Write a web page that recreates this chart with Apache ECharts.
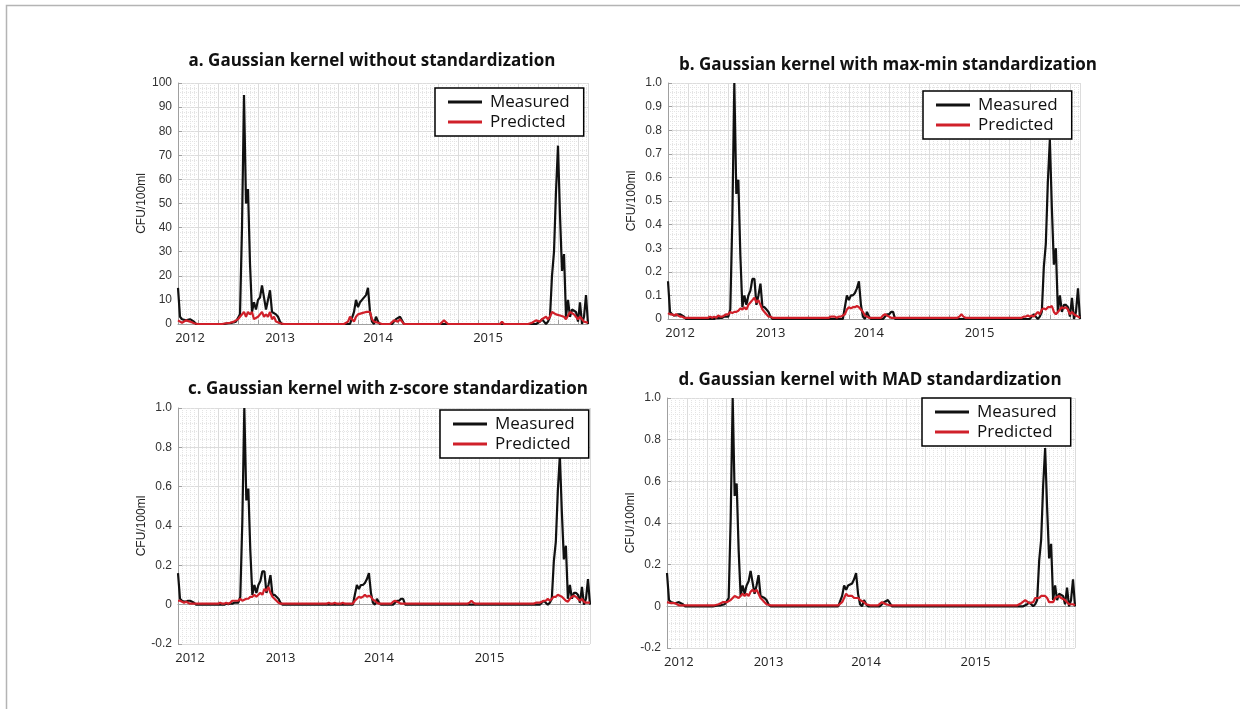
<!DOCTYPE html>
<html>
<head>
<meta charset="utf-8">
<script src="https://cdn.jsdelivr.net/npm/echarts@6/dist/echarts.min.js"></script>
<style>
html,body{margin:0;padding:0;background:#fff;}
#chart{width:1240px;height:709px;}
</style>
</head>
<body>
<div id="chart"></div>
<script>
// ---------- DATA (weekly samples, index 0..205) ----------
const yearLabels = ['2012', '2013', '2014', '2015'];
const yearLabelWeeks = [6, 51, 100, 155];

const titles = [
  'a. Gaussian kernel without standardization',
  'b. Gaussian kernel with max-min standardization',
  'c. Gaussian kernel with z-score standardization',
  'd. Gaussian kernel with MAD standardization'
];
const seriesNames = ['Measured', 'Predicted'];

// Panel a: raw CFU/100ml
const measuredA = [
  15,3,2,1.5,1.5,2,2,1.5,1,0,
  0,0,0,0,0,0,0,0,0,0,
  0,0,0,0,0.5,0.3,0.5,0.5,1,1,
  1,4,40,95,50,56,25,5,9,6,
  10,11,16,16,6,10,14,5,5,4,
  3,1,0,0,0,0,0,0,0,0,
  0,0,0,0,0,0,0,0,0,0,
  0,0,0,0,0,0,0,0,0,0,
  0,0,0,0,0,0,0,0,5,10,
  7,9,10,10,12,15,5,1,0,3,
  1,0,0,0,0,0,0,0,1,2,
  2,3,3,0,0,0,0,0,0,0,
  0,0,0,0,0,0,0,0,0,0,
  0,0,0,0,0,0,0,0,0,0,
  0,0,0,0,0,0,0,0,0,0,
  0,0,0,0,0,0,0,0,0,0,
  0,0,0,0,0,0,0,0,0,0,
  0,0,0,0,0,0,0,0,0,0,
  0,1,2,1,0,1,3,20,30,55,
  74,45,22,29,3,10,3,6,6,5,
  1,9,0,3,12,0
];
const predictedA = [
  1.5,1,0.5,1,1.5,1.5,1,0.5,0.3,0,
  0,0,0,0,0,0,0,0,0,0,
  0,0,0,0.5,0.3,0,0.5,1,1,1,
  2,3,4,5,3,5,4,5,2,2,
  3,4,5,3,4,3,5,2,3,1,
  1,0.3,0,0,0,0,0,0,0,0,
  0,0,0,0,0,0,0,0,0,0,
  0,0,0,0,0,0,0,0,0,0,
  0,0,0,0,0,1,3,2,1,3,
  4,4,4.5,5,5,5.5,5,2,1,0.5,
  0.5,0,0,0,0,0,0,0.5,1.5,2,
  1,2,1,0,0,0,0,0,0,0,
  0,0,0,0,0,0,0,0,0,0,
  0,0,0,1.5,1,0,0,0,0,0,
  0,0,0,0,0,0,0,0,0,0,
  0,0,0,0,0,0,0,0,0,0,
  0,0,1,0,0,0,0,0,0,0,
  0,0,0,0,0,0,0,0.5,1,1.5,
  2,1,2,2.5,3,2,3,5,4.5,4,
  4,3.5,3.5,3,2,2,5,5,4,3,
  2,3,2,1,1,0.5
];

// Panels b, c, d: standardized measured series (same in all three)
const measuredStd = [
  0.16,0.03,0.02,0.015,0.015,0.02,0.02,0.015,0.01,0,
  0,0,0,0,0,0,0,0,0,0,
  0,0,0,0,0.005,0.003,0.005,0.005,0.01,0.01,
  0.01,0.04,0.42,1.0,0.53,0.59,0.27,0.05,0.1,0.06,
  0.1,0.12,0.17,0.17,0.06,0.1,0.15,0.05,0.05,0.04,
  0.03,0.01,0,0,0,0,0,0,0,0,
  0,0,0,0,0,0,0,0,0,0,
  0,0,0,0,0,0,0,0,0,0,
  0,0,0,0,0,0,0,0,0.05,0.1,
  0.08,0.1,0.1,0.11,0.13,0.16,0.06,0.01,0,0.03,
  0.01,0,0,0,0,0,0,0,0.01,0.02,
  0.02,0.03,0.03,0,0,0,0,0,0,0,
  0,0,0,0,0,0,0,0,0,0,
  0,0,0,0,0,0,0,0,0,0,
  0,0,0,0,0,0,0,0,0,0,
  0,0,0,0,0,0,0,0,0,0,
  0,0,0,0,0,0,0,0,0,0,
  0,0,0,0,0,0,0,0,0,0,
  0,0.01,0.02,0.01,0,0.01,0.03,0.22,0.32,0.58,
  0.76,0.47,0.23,0.3,0.03,0.1,0.03,0.06,0.06,0.05,
  0.01,0.09,0,0.03,0.13,0
];
const predictedB = [
  0.025,0.02,0.02,0.015,0.02,0.015,0.01,0.01,0.005,0.005,
  0.005,0.005,0.005,0.005,0.005,0.005,0.005,0.005,0.005,0.005,
  0.005,0.01,0.005,0.01,0.005,0.015,0.01,0.01,0.015,0.02,
  0.02,0.03,0.025,0.03,0.03,0.035,0.045,0.04,0.05,0.04,
  0.06,0.07,0.08,0.09,0.07,0.08,0.06,0.04,0.03,0.02,
  0.01,0.01,0.005,0.005,0.005,0.005,0.005,0.005,0.005,0.005,
  0.005,0.005,0.005,0.005,0.005,0.005,0.005,0.005,0.005,0.005,
  0.005,0.005,0.005,0.005,0.005,0.005,0.005,0.005,0.005,0.005,
  0.005,0.01,0.01,0.01,0.005,0.01,0.01,0.015,0.02,0.04,
  0.05,0.045,0.05,0.05,0.055,0.05,0.04,0.03,0.015,0.01,
  0.005,0.005,0.005,0.005,0.005,0.005,0.005,0.015,0.02,0.015,
  0.01,0.005,0.005,0.005,0.005,0.005,0.005,0.005,0.005,0.005,
  0.005,0.005,0.005,0.005,0.005,0.005,0.005,0.005,0.005,0.005,
  0.005,0.005,0.005,0.005,0.005,0.005,0.005,0.005,0.005,0.005,
  0.005,0.005,0.005,0.005,0.005,0.01,0.02,0.01,0.005,0.005,
  0.005,0.005,0.005,0.005,0.005,0.005,0.005,0.005,0.005,0.005,
  0.005,0.005,0.005,0.005,0.005,0.005,0.005,0.005,0.005,0.005,
  0.005,0.005,0.005,0.005,0.005,0.005,0.005,0.01,0.01,0.015,
  0.01,0.015,0.01,0.02,0.03,0.02,0.04,0.045,0.04,0.05,
  0.05,0.055,0.03,0.02,0.03,0.04,0.05,0.045,0.05,0.04,
  0.02,0.03,0.02,0.015,0.01,0.005
];
const predictedC = [
  0.02,0.02,0.015,0.01,0.015,0.01,0.005,0.005,0.005,0.005,
  0.005,0.005,0.005,0.005,0.005,0.005,0.005,0.005,0.005,0.005,
  0.005,0.01,0.005,0.005,0.01,0.005,0.01,0.02,0.02,0.02,
  0.02,0.03,0.02,0.025,0.03,0.03,0.04,0.04,0.05,0.04,
  0.05,0.06,0.05,0.08,0.07,0.09,0.06,0.04,0.03,0.02,
  0.01,0.005,0.005,0.005,0.005,0.005,0.005,0.005,0.005,0.005,
  0.005,0.005,0.005,0.005,0.005,0.005,0.005,0.005,0.005,0.005,
  0.005,0.005,0.005,0.005,0.005,0.01,0.005,0.005,0.01,0.005,
  0.005,0.005,0.01,0.005,0.005,0.005,0.005,0.005,0.02,0.03,
  0.04,0.035,0.04,0.05,0.04,0.045,0.04,0.025,0.02,0.01,
  0.005,0.005,0.005,0.005,0.005,0.005,0.005,0.015,0.02,0.015,
  0.01,0.005,0.005,0.005,0.005,0.005,0.005,0.005,0.005,0.005,
  0.005,0.005,0.005,0.005,0.005,0.005,0.005,0.005,0.005,0.005,
  0.005,0.005,0.005,0.005,0.005,0.005,0.005,0.005,0.005,0.005,
  0.005,0.005,0.005,0.005,0.005,0.01,0.02,0.01,0.005,0.005,
  0.005,0.005,0.005,0.005,0.005,0.005,0.005,0.005,0.005,0.005,
  0.005,0.005,0.005,0.005,0.005,0.005,0.005,0.005,0.005,0.005,
  0.005,0.005,0.005,0.005,0.005,0.005,0.005,0.005,0.01,0.01,
  0.01,0.015,0.02,0.02,0.03,0.02,0.03,0.04,0.04,0.05,
  0.045,0.04,0.03,0.02,0.015,0.03,0.04,0.045,0.04,0.03,
  0.02,0.03,0.015,0.01,0.01,0.01
];
const predictedD = [
  0.02,0.02,0.015,0.02,0.015,0.01,0.005,0.005,0.005,0.005,
  0.005,0.005,0.005,0.005,0.005,0.005,0.005,0.005,0.005,0.005,
  0.005,0.005,0.005,0.005,0.005,0.01,0.01,0.015,0.02,0.02,
  0.02,0.025,0.03,0.04,0.05,0.05,0.04,0.05,0.06,0.05,
  0.06,0.05,0.07,0.08,0.07,0.08,0.06,0.04,0.03,0.02,
  0.01,0.005,0.005,0.005,0.005,0.005,0.005,0.005,0.005,0.005,
  0.005,0.005,0.005,0.005,0.005,0.005,0.005,0.005,0.005,0.005,
  0.005,0.005,0.005,0.005,0.005,0.005,0.005,0.005,0.005,0.005,
  0.005,0.005,0.005,0.005,0.005,0.005,0.005,0.005,0.02,0.04,
  0.06,0.05,0.045,0.05,0.04,0.045,0.04,0.03,0.035,0.02,
  0.01,0.005,0.005,0.005,0.005,0.005,0.005,0.01,0.02,0.015,
  0.01,0.005,0.005,0.005,0.005,0.005,0.005,0.005,0.005,0.005,
  0.005,0.005,0.005,0.005,0.005,0.005,0.005,0.005,0.005,0.005,
  0.005,0.005,0.005,0.005,0.005,0.005,0.005,0.005,0.005,0.005,
  0.005,0.005,0.005,0.005,0.005,0.01,0.005,0.005,0.005,0.005,
  0.005,0.005,0.005,0.005,0.005,0.005,0.005,0.005,0.005,0.005,
  0.005,0.005,0.005,0.005,0.005,0.005,0.005,0.005,0.005,0.005,
  0.005,0.005,0.005,0.005,0.005,0.005,0.005,0.01,0.015,0.02,
  0.03,0.025,0.015,0.01,0.02,0.04,0.045,0.04,0.05,0.045,
  0.05,0.04,0.02,0.015,0.02,0.04,0.045,0.05,0.04,0.045,
  0.03,0.02,0.01,0.015,0.01,0.005
];

// ---------- LAYOUT ----------
const panels = [
  { grid: {left:178, top:83, width:410, height:241}, titleX: 372, titleY: 61,
    yMin: 0, yMax: 100, yInt: 10, meas: measuredA, pred: predictedA, legend: {left:435, top:88}, nameGap: 22 },
  { grid: {left:668, top:83, width:412, height:236}, titleX: 888, titleY: 65,
    yMin: 0, yMax: 1, yInt: 0.1, meas: measuredStd, pred: predictedB, legend: {left:923, top:91}, nameGap: 30 },
  { grid: {left:178, top:408, width:412, height:236}, titleX: 388, titleY: 389,
    yMin: -0.2, yMax: 1, yInt: 0.2, meas: measuredStd, pred: predictedC, legend: {left:440, top:410}, nameGap: 30 },
  { grid: {left:667, top:398, width:408, height:250}, titleX: 870, titleY: 380,
    yMin: -0.2, yMax: 1, yInt: 0.2, meas: measuredStd, pred: predictedD, legend: {left:922, top:398}, nameGap: 28 }
];

const toPairs = arr => arr.map((v, i) => [i, v]);
const lastWeek = measuredA.length - 1;

const option = {
  animation: false,
  backgroundColor: '#fff',
  grid: [], xAxis: [], yAxis: [], series: [], legend: [],
  graphic: [
    { type: 'polyline', silent: true,
      shape: { points: [[6.5, 709], [6.5, 5.5], [1240, 5.5]] },
      style: { stroke: '#b4b4b4', lineWidth: 1.5, fill: null } }
  ]
};

panels.forEach((p, k) => {
  option.grid.push(Object.assign({ show: false }, p.grid));
  option.xAxis.push({
    type: 'value', gridIndex: k, min: 0, max: lastWeek, interval: 10,
    axisLine: { show: true, lineStyle: { color: '#a0a0a0', width: 1 } },
    axisTick: { show: true, inside: true, length: 4, lineStyle: { color: '#a0a0a0' } },
    axisLabel: {
      customValues: yearLabelWeeks,
      formatter: v => yearLabels[yearLabelWeeks.indexOf(Math.round(v))] || '',
      color: '#222', fontFamily: 'Open Sans', fontSize: 13, margin: 8
    },
    splitLine: { show: true, lineStyle: { color: '#dcdcdc', width: 1 } },
    minorTick: { show: false, splitNumber: 5 },
    minorSplitLine: { show: true, lineStyle: { color: '#e4e4e4', width: 1, type: 'dotted' } }
  });
  option.yAxis.push({
    type: 'value', gridIndex: k, min: p.yMin, max: p.yMax, interval: p.yInt,
    name: 'CFU/100ml', nameLocation: 'middle', nameGap: p.nameGap, nameRotate: 90,
    nameTextStyle: { color: '#222', fontFamily: 'Liberation Sans', fontSize: 12 },
    axisLine: { show: true, lineStyle: { color: '#a0a0a0', width: 1 } },
    axisTick: { show: true, inside: true, length: 4, lineStyle: { color: '#a0a0a0' } },
    axisLabel: {
      color: '#333', fontFamily: 'Liberation Sans', fontSize: 12, margin: 6,
      formatter: v => {
        if (Math.abs(v) < 1e-9) return '0';
        return p.yInt >= 1 ? String(Math.round(v)) : v.toFixed(1);
      }
    },
    splitLine: { show: true, lineStyle: { color: '#dcdcdc', width: 1 } },
    minorTick: { show: false, splitNumber: 5 },
    minorSplitLine: { show: true, lineStyle: { color: '#e4e4e4', width: 1, type: 'dotted' } }
  });
  option.series.push({
    name: seriesNames[0], type: 'line', xAxisIndex: k, yAxisIndex: k,
    data: toPairs(p.meas), showSymbol: false, symbol: 'none',
    lineStyle: { color: '#111', width: 2.2 }, itemStyle: { color: '#111' }, z: 3
  });
  option.series.push({
    name: seriesNames[1], type: 'line', xAxisIndex: k, yAxisIndex: k,
    data: toPairs(p.pred), showSymbol: false, symbol: 'none',
    lineStyle: { color: '#d0202a', width: 2.2 }, itemStyle: { color: '#d0202a' }, z: 4
  });
  option.legend.push({
    left: p.legend.left, top: p.legend.top, orient: 'vertical',
    data: seriesNames, icon: 'rect', itemWidth: 34, itemHeight: 3, itemGap: 0,
    padding: [4, 14, 4, 13], backgroundColor: '#fff', borderColor: '#000', borderWidth: 1.5,
    borderRadius: 0, selectedMode: false,
    textStyle: { color: '#111', fontFamily: 'Open Sans', fontSize: 17, lineHeight: 20, padding: [0, 0, 0, 3] }
  });
  option.graphic.push({
    type: 'text', x: p.titleX, y: p.titleY, silent: true,
    style: { text: titles[k], align: 'center', verticalAlign: 'middle',
      fontFamily: 'Open Sans', fontWeight: 'bold', fontSize: 17, fill: '#111' }
  });
});

const chart = echarts.init(document.getElementById('chart'), null, { renderer: 'canvas' });
chart.setOption(option);
</script>
</body>
</html>
